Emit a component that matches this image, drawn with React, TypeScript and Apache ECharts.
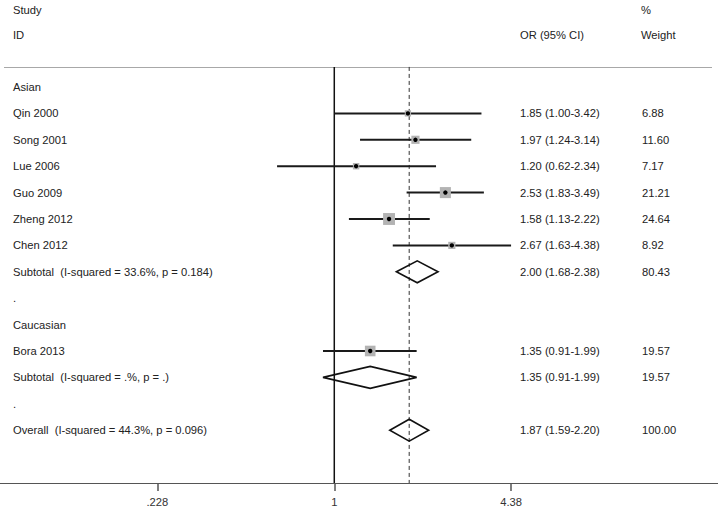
import React, { useEffect, useRef } from "react";
import * as echarts from "echarts";

const groupLabels = ["Asian", ".", "Caucasian", "."];
const groupRows = [0, 8, 9, 12];

const studyNames = ["Qin 2000", "Song 2001", "Lue 2006", "Guo 2009", "Zheng 2012", "Chen 2012", "Bora 2013"];
const studyRows = [1, 2, 3, 4, 5, 6, 10];
const studyOR = [1.85, 1.97, 1.2, 2.53, 1.58, 2.67, 1.35];
const studyLow = [1.0, 1.24, 0.62, 1.83, 1.13, 1.63, 0.91];
const studyHigh = [3.42, 3.14, 2.34, 3.49, 2.22, 4.38, 1.99];
const studyWeight = [6.88, 11.6, 7.17, 21.21, 24.64, 8.92, 19.57];

const pooledNames = [
  "Subtotal  (I-squared = 33.6%, p = 0.184)",
  "Subtotal  (I-squared = .%, p = .)",
  "Overall  (I-squared = 44.3%, p = 0.096)",
];
const pooledRows = [7, 11, 13];
const pooledOR = [2.0, 1.35, 1.87];
const pooledLow = [1.68, 0.91, 1.59];
const pooledHigh = [2.38, 1.99, 2.2];
const pooledWeight = [80.43, 19.57, 100.0];

const tickValues = [0.228, 1, 4.38];
const tickLabels = [".228", "1", "4.38"];

const FONT_FAMILY = "'Liberation Sans', Arial, sans-serif";
const FONT_SIZE = 11.2;
const TXT = "#222";
const COL_NAME_X = 13;
const COL_OR_X = 520;
const COL_W_X = 642;
const TOP_ROW = -0.76;
const Y_MAX = 15;

const fmt = (v: number) => v.toFixed(2);

function textEl(text: string, x: number, y: number) {
  return {
    type: "text",
    x,
    y,
    style: {
      text,
      fill: TXT,
      fontSize: FONT_SIZE,
      fontFamily: FONT_FAMILY,
      align: "left",
      verticalAlign: "middle",
    },
  };
}

export default function App() {
  const ref = useRef<HTMLDivElement>(null);

  useEffect(() => {
    if (!ref.current) return;
    const chart = echarts.init(ref.current, null, { renderer: "svg" });
    const lnTicks = tickValues.map((v) => Math.log(v));

    const option: any = {
      animation: false,
      backgroundColor: "#ffffff",
      grid: { left: 0, right: 0, top: 0, bottom: 29 },
      xAxis: {
        type: "value",
        min: -2.793,
        max: 3.206,
        axisLine: { show: true, onZero: false, lineStyle: { color: "#555", width: 1.2 } },
        axisTick: {
          show: true,
          length: 8,
          customValues: lnTicks,
          lineStyle: { color: "#555", width: 1.5 },
        },
        axisLabel: {
          customValues: lnTicks,
          margin: 13,
          color: "#333",
          fontSize: FONT_SIZE,
          fontFamily: FONT_FAMILY,
          formatter: (v: number) => {
            let best = 0;
            lnTicks.forEach((t, i) => {
              if (Math.abs(t - v) < Math.abs(lnTicks[best] - v)) best = i;
            });
            return tickLabels[best];
          },
        },
        splitLine: { show: false },
      },
      yAxis: { type: "value", inverse: true, min: -3.295, max: Y_MAX, show: false },
      graphic: [
        {
          type: "line",
          shape: { x1: 4, y1: 67.5, x2: 712, y2: 67.5 },
          style: { stroke: "#a8a8a8", lineWidth: 1 },
          z: 1,
        },
        { ...textEl("Study", COL_NAME_X, 10) },
        { ...textEl("ID", COL_NAME_X, 35) },
        { ...textEl("OR (95% CI)", COL_OR_X, 35) },
        { ...textEl("%", COL_W_X - 1, 10) },
        { ...textEl("Weight", COL_W_X - 1, 35) },
      ],
      series: [
        {
          type: "custom",
          z: 2,
          data: [
            [0, 0],
            [Math.log(pooledOR[2]), 1],
          ],
          renderItem: (params: any, api: any) => {
            const x = api.value(0);
            const top = api.coord([x, TOP_ROW]);
            const bot = api.coord([x, Y_MAX]);
            const dashed = params.dataIndex === 1;
            return {
              type: "line",
              shape: { x1: top[0], y1: top[1], x2: bot[0], y2: bot[1] },
              style: dashed
                ? { stroke: "#333", lineWidth: 1, lineDash: [4, 3] }
                : { stroke: "#111", lineWidth: 1.5 },
            };
          },
        },
        {
          type: "custom",
          z: 3,
          data: groupRows.map((r) => [0, r]),
          renderItem: (params: any, api: any) => {
            const p = api.coord([0, api.value(1)]);
            return textEl(groupLabels[params.dataIndex], COL_NAME_X, p[1]);
          },
        },
        {
          type: "custom",
          z: 4,
          data: studyOR.map((v, i) => [
            Math.log(v),
            studyRows[i],
            Math.log(studyLow[i]),
            Math.log(studyHigh[i]),
            studyWeight[i],
          ]),
          renderItem: (params: any, api: any) => {
            const i = params.dataIndex;
            const row = api.value(1);
            const c = api.coord([api.value(0), row]);
            const lo = api.coord([api.value(2), row]);
            const hi = api.coord([api.value(3), row]);
            const s = 2.4 * Math.sqrt(api.value(4));
            return {
              type: "group",
              children: [
                {
                  type: "line",
                  shape: { x1: lo[0], y1: lo[1], x2: hi[0], y2: hi[1] },
                  style: { stroke: "#1a1a1a", lineWidth: 2 },
                },
                {
                  type: "rect",
                  shape: { x: c[0] - s / 2, y: c[1] - s / 2, width: s, height: s },
                  style: { fill: "#b3b3b3" },
                },
                {
                  type: "circle",
                  shape: { cx: c[0], cy: c[1], r: 2.2 },
                  style: { fill: "#000" },
                },
                textEl(studyNames[i], COL_NAME_X, c[1]),
                textEl(`${fmt(studyOR[i])} (${fmt(studyLow[i])}-${fmt(studyHigh[i])})`, COL_OR_X, c[1]),
                textEl(fmt(studyWeight[i]), COL_W_X, c[1]),
              ],
            };
          },
        },
        {
          type: "custom",
          z: 4,
          data: pooledOR.map((v, i) => [
            Math.log(v),
            pooledRows[i],
            Math.log(pooledLow[i]),
            Math.log(pooledHigh[i]),
            pooledWeight[i],
          ]),
          renderItem: (params: any, api: any) => {
            const i = params.dataIndex;
            const row = api.value(1);
            const c = api.coord([api.value(0), row]);
            const lo = api.coord([api.value(2), row]);
            const hi = api.coord([api.value(3), row]);
            const h = 11;
            return {
              type: "group",
              children: [
                {
                  type: "polygon",
                  shape: {
                    points: [
                      [lo[0], c[1]],
                      [c[0], c[1] - h],
                      [hi[0], c[1]],
                      [c[0], c[1] + h],
                    ],
                  },
                  style: { fill: "none", stroke: "#111", lineWidth: 1.6 },
                },
                textEl(pooledNames[i], COL_NAME_X, c[1]),
                textEl(`${fmt(pooledOR[i])} (${fmt(pooledLow[i])}-${fmt(pooledHigh[i])})`, COL_OR_X, c[1]),
                textEl(fmt(pooledWeight[i]), COL_W_X, c[1]),
              ],
            };
          },
        },
      ],
    };

    chart.setOption(option);
    return () => chart.dispose();
  }, []);

  return (
    <div
      ref={ref}
      style={{ position: "fixed", left: 0, top: 0, width: 718, height: 512, background: "#fff" }}
    />
  );
}
